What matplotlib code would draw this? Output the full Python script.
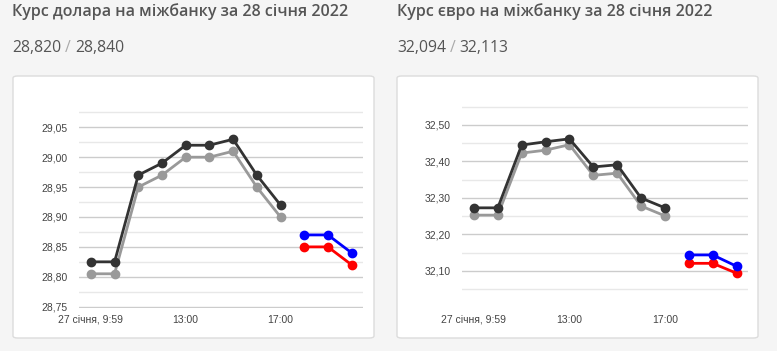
import numpy as np
import matplotlib.pyplot as plt
from matplotlib.patches import FancyBboxPatch
from matplotlib.ticker import FixedLocator

# data
x_labels = ["27 січня, 9:59", "13:00", "17:00"]
x_label_pos = [0, 4, 8]

usd_title = "Курс долара на міжбанку за 28 січня 2022"
usd_buy, usd_sell = "28,820", "28,840"
usd_hi = [28.825, 28.825, 28.97, 28.99, 29.02, 29.02, 29.03, 28.97, 28.92]
usd_lo = [28.805, 28.805, 28.95, 28.97, 29.00, 29.00, 29.01, 28.95, 28.90]
usd_blue = [28.87, 28.87, 28.84]
usd_red = [28.85, 28.85, 28.82]

eur_title = "Курс євро на міжбанку за 28 січня 2022"
eur_buy, eur_sell = "32,094", "32,113"
eur_hi = [32.273, 32.273, 32.445, 32.454, 32.462, 32.385, 32.391, 32.300, 32.273]
eur_lo = [32.253, 32.253, 32.423, 32.431, 32.446, 32.362, 32.368, 32.278, 32.251]
eur_blue = [32.144, 32.144, 32.113]
eur_red = [32.121, 32.121, 32.094]

W, H = 777, 351
BG = '#f5f5f5'
DARK = '#333333'
GREY = '#999999'
TXT = '#555555'

fig = plt.figure(figsize=(W / 100, H / 100), dpi=100)
fig.patch.set_facecolor(BG)


def px_box(x0, y0, x1, y1):
    """pixel box (top-left origin) -> figure fraction rect"""
    return [x0 / W, 1 - y1 / H, (x1 - x0) / W, (y1 - y0) / H]


def draw_card(x0, x1):
    card = FancyBboxPatch((x0 / W, 1 - 338 / H), (x1 - x0) / W, 262 / H,
                          boxstyle="round,pad=0,rounding_size=0.006",
                          transform=fig.transFigure, facecolor='white',
                          edgecolor='#dcdcdc', linewidth=1, zorder=-5)
    fig.patches.append(card)


def draw_header(x, title, buy, sell):
    fig.text(x / W, 1 - 12 / H, title, family='Open Sans', weight='semibold',
             fontsize=11.5, color=TXT, va='center', ha='left')
    t = fig.text(x / W, 1 - 48 / H, buy, family='Open Sans', fontsize=11.3,
                 color=TXT, va='center', ha='left')
    fig.canvas.draw()
    bb = t.get_window_extent()
    t2 = fig.text(bb.x1 / W + 4 / W, 1 - 48 / H, "/", family='Open Sans',
                  fontsize=11.3, color='#aaaaaa', va='center', ha='left')
    bb2 = t2.get_window_extent()
    fig.text(bb2.x1 / W + 4 / W, 1 - 48 / H, sell, family='Open Sans',
             fontsize=11.3, color=TXT, va='center', ha='left')


def draw_chart(rect, hi, lo, blue, red, ylim, major, minor, fmt):
    ax = fig.add_axes(rect)
    ax.set_facecolor('none')
    n = len(hi)
    xs = np.arange(n)
    xf = np.arange(n, n + len(blue))
    ax.plot(xs, lo, color=GREY, lw=2, marker='o', ms=6, zorder=3)
    ax.plot(xs, hi, color=DARK, lw=2, marker='o', ms=6, zorder=4)
    ax.plot(xf, red, color='#ff0000', lw=2, marker='o', ms=6, zorder=3)
    ax.plot(xf, blue, color='#0000ff', lw=2, marker='o', ms=6, zorder=4)
    ax.set_xlim(-0.5, 11.48)
    ax.set_ylim(*ylim)
    ax.yaxis.set_major_locator(FixedLocator(major))
    ax.yaxis.set_minor_locator(FixedLocator(minor))
    ax.set_yticklabels([fmt.format(v).replace('.', ',') for v in major])
    ax.set_xticks(x_label_pos)
    ax.set_xticklabels(x_labels)
    ax.grid(axis='y', which='major', color='#cccccc', lw=1)
    ax.grid(axis='y', which='minor', color='#e8e8e8', lw=1)
    ax.set_axisbelow(True)
    for s in ax.spines.values():
        s.set_visible(False)
    ax.tick_params(axis='both', which='both', length=0, colors='#444444',
                   labelsize=7.5)
    ax.tick_params(axis='y', pad=8)
    ax.tick_params(axis='x', pad=5)
    for lab in ax.get_xticklabels() + ax.get_yticklabels():
        lab.set_family(['Liberation Sans', 'DejaVu Sans'])
    return ax


draw_card(13, 374)
draw_card(397, 758)
draw_header(12, usd_title, usd_buy, usd_sell)
draw_header(397, eur_title, eur_buy, eur_sell)

usd_major = [28.75, 28.80, 28.85, 28.90, 28.95, 29.00, 29.05]
usd_minor = [28.775, 28.825, 28.875, 28.925, 28.975, 29.025, 29.075]
draw_chart(px_box(79, 106, 363, 308), usd_hi, usd_lo, usd_blue, usd_red,
           (28.7478, 29.0856), usd_major, usd_minor, "{:.2f}")

eur_major = [32.10, 32.20, 32.30, 32.40, 32.50]
eur_minor = [32.05, 32.15, 32.25, 32.35, 32.45, 32.55]
draw_chart(px_box(462, 106, 748, 308), eur_hi, eur_lo, eur_blue, eur_red,
           (31.9986, 32.552), eur_major, eur_minor, "{:.2f}")

fig.savefig('out.png', dpi=100, facecolor=BG)
